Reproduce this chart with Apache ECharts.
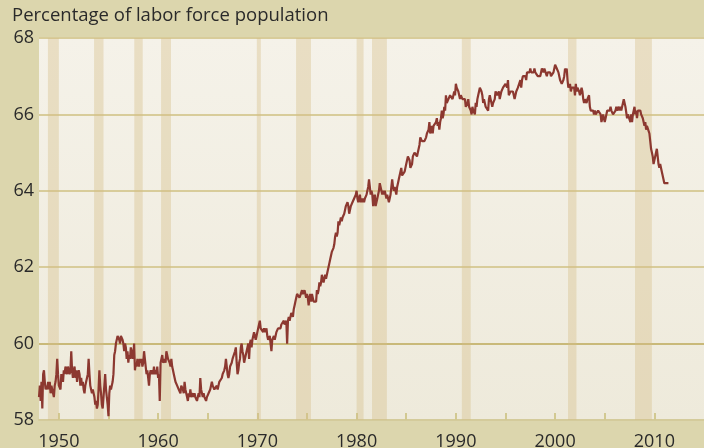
<!DOCTYPE html>
<html>
<head>
<meta charset="utf-8">
<script src="https://cdn.jsdelivr.net/npm/echarts@6/dist/echarts.min.js"></script>
<style>
html,body{margin:0;padding:0;background:#dcd6ad;}
#c{width:704px;height:448px;}
</style>
</head>
<body>
<div id="c"></div>
<script>
// Labor force participation rate, monthly, % of population
const startYear = 1948;
const vals1948 = [
58.6,58.9,58.5,59.0,58.3,59.2,59.3,59.0,58.8,58.9,58.8,59.0,
58.8,59.0,58.7,58.9,58.8,58.7,58.6,58.9,59.0,59.2,59.6,59.2,
58.9,58.9,58.8,59.2,59.1,59.0,59.3,59.2,59.4,59.3,59.2,59.4,
59.3,59.2,59.3,59.8,59.3,59.1,59.3,59.4,59.1,59.3,59.0,59.2,
59.3,59.2,58.9,59.1,58.9,59.0,58.8,58.7,58.9,59.0,59.1,59.2,
59.6,59.2,58.9,58.8,58.7,58.8,58.7,58.6,58.4,58.5,58.3,58.4,
58.8,59.3,58.9,58.7,58.4,58.3,58.6,58.9,59.2,58.8,58.6,58.4,
58.1,58.7,58.9,58.8,58.9,59.0,59.2,59.7,59.8,60.0,60.0,60.2,
60.2,60.1,60.0,60.2,60.2,60.1,60.0,59.8,60.0,59.9,59.6,59.8,
59.5,59.7,59.6,59.9,59.8,59.6,59.7,60.0,59.3,59.5,59.4,59.6,
59.5,59.4,59.6,59.5,59.6,59.4,59.5,59.8,59.6,59.4,59.2,59.3,
59.1,58.9,59.2,59.3,59.2,59.3,59.2,59.4,59.2,59.3,59.2,59.4
];
const vals1960 = [
59.1,59.2,58.5,59.5,59.6,59.7,59.5,59.5,59.6,59.5,59.8,59.7,
59.6,59.6,59.5,59.4,59.6,59.4,59.3,59.2,59.1,59.0,59.0,58.9,
58.9,58.8,58.8,58.7,58.9,58.9,58.8,58.7,59.0,58.8,58.7,58.6,
58.5,58.7,58.6,58.8,58.6,58.6,58.7,58.6,58.7,58.6,58.6,58.5,
58.6,58.7,58.6,59.1,58.8,58.7,58.6,58.7,58.6,58.6,58.5,58.6,
58.6,58.7,58.7,58.8,58.8,59.0,58.9,58.9,58.8,58.8,58.8,58.9,
58.8,58.9,59.0,59.0,59.0,59.1,59.2,59.2,59.3,59.4,59.6,59.4,
59.2,59.1,59.2,59.4,59.4,59.5,59.6,59.6,59.6,59.8,59.9,59.5,
59.2,59.3,59.5,59.6,59.9,60.0,59.8,59.7,59.5,59.6,59.7,59.8,
59.9,60.0,59.6,60.0,60.1,59.9,60.1,60.2,60.3,60.2,60.1,60.2
];
const vals1970 = [
60.3,60.4,60.5,60.6,60.4,60.4,60.4,60.3,60.4,60.3,60.3,60.4,
60.2,60.1,60.1,60.2,60.0,59.8,60.1,60.1,60.2,60.1,60.2,60.3,
60.3,60.4,60.4,60.4,60.4,60.5,60.5,60.5,60.6,60.5,60.5,60.6,
60.0,60.6,60.7,60.6,60.7,60.8,60.8,60.7,60.9,61.0,61.1,61.2,
61.3,61.3,61.3,61.2,61.2,61.2,61.4,61.3,61.3,61.4,61.3,61.2,
61.3,61.2,61.0,61.2,61.3,61.1,61.3,61.2,61.1,61.1,61.1,61.1,
61.4,61.3,61.4,61.6,61.5,61.6,61.8,61.7,61.6,61.7,61.8,61.7,
61.7,61.9,62.0,62.1,62.2,62.3,62.4,62.4,62.5,62.6,62.8,62.9,
62.8,62.9,63.2,63.1,63.2,63.3,63.2,63.3,63.3,63.4,63.5,63.6,
63.6,63.7,63.6,63.4,63.5,63.6,63.6,63.7,63.7,63.8,63.8,63.9
];
const vals1980 = [
64.0,63.8,63.7,63.8,63.9,63.7,63.8,63.7,63.8,63.7,63.8,63.8,
63.9,64.0,64.1,64.3,64.1,63.9,64.0,63.9,63.6,63.8,63.9,63.6,
63.6,63.8,63.9,64.0,64.2,64.1,64.0,63.9,64.0,63.9,64.0,63.9,
63.8,63.9,63.8,63.7,63.8,63.9,64.1,64.3,64.1,64.0,64.1,64.1,
63.9,64.1,64.2,64.3,64.4,64.5,64.6,64.4,64.4,64.4,64.5,64.6,
64.7,64.7,64.9,64.9,64.8,64.6,64.6,64.7,64.9,64.9,65.0,65.0,
65.0,64.9,65.0,65.1,65.2,65.4,65.4,65.3,65.3,65.3,65.3,65.3,
65.4,65.5,65.5,65.6,65.8,65.5,65.6,65.7,65.5,65.7,65.7,65.7,
65.8,65.9,65.7,65.8,65.6,65.8,65.9,66.1,65.9,66.0,66.2,66.1,
66.5,66.3,66.3,66.4,66.4,66.5,66.5,66.5,66.4,66.5,66.6,66.5
];
const vals1990 = [
66.8,66.7,66.7,66.6,66.6,66.4,66.5,66.5,66.4,66.4,66.4,66.4,
66.2,66.2,66.3,66.4,66.2,66.2,66.1,66.0,66.2,66.1,66.1,66.0,
66.3,66.2,66.4,66.5,66.6,66.7,66.7,66.6,66.5,66.3,66.4,66.4,
66.2,66.2,66.2,66.1,66.4,66.5,66.4,66.4,66.2,66.3,66.3,66.4,
66.6,66.6,66.5,66.5,66.6,66.4,66.4,66.6,66.6,66.7,66.7,66.7,
66.8,66.8,66.7,66.9,66.5,66.5,66.6,66.6,66.6,66.6,66.5,66.4,
66.4,66.6,66.6,66.7,66.7,66.7,66.9,66.7,66.9,67.0,67.0,67.0,
67.0,66.9,67.1,67.1,67.1,67.1,67.2,67.1,67.1,67.1,67.1,67.2,
67.1,67.1,67.1,67.0,67.0,67.0,67.0,67.0,67.2,67.2,67.1,67.2,
67.2,67.2,67.0,67.1,67.1,67.1,67.1,67.0,67.0,67.0,67.1,67.1
];
const vals2000 = [
67.3,67.3,67.2,67.2,67.1,67.1,66.9,66.9,66.8,66.8,66.9,67.0,
67.2,67.1,67.2,66.9,66.7,66.7,66.8,66.6,66.7,66.7,66.7,66.7,
66.5,66.8,66.6,66.7,66.7,66.6,66.5,66.6,66.7,66.6,66.4,66.3,
66.4,66.4,66.3,66.4,66.4,66.5,66.2,66.1,66.1,66.1,66.1,66.0,
66.1,66.0,66.0,66.0,66.1,66.1,66.1,66.0,65.8,65.9,66.0,65.9,
65.8,65.9,65.9,66.1,66.1,66.1,66.1,66.2,66.1,66.1,66.0,66.0,
66.0,66.1,66.2,66.1,66.1,66.2,66.1,66.2,66.1,66.2,66.3,66.4,
66.4,66.2,66.2,65.9,66.0,66.0,66.0,65.8,66.0,65.8,66.0,66.0,
66.2,66.0,66.1,65.9,66.1,66.1,66.1,66.1,66.0,66.0,65.9,65.8,
65.7,65.8,65.6,65.7,65.7,65.7,65.5,65.3,65.1,65.0,64.9,64.7,
64.8,64.9,65.0,65.1,64.9,64.7,64.6,64.7,64.7,64.5,64.5,64.3,
64.2,64.2,64.2,64.2,64.2,64.2
];
// Recession periods (start, end) in decimal years
const recessions = [
[1948.9,1950.0],[1953.55,1954.5],[1957.6,1958.45],[1960.3,1961.3],
[1969.95,1970.35],[1973.9,1975.4],[1980.0,1980.7],[1981.55,1983.05],
[1990.6,1991.5],[2001.3,2002.15],[2008.05,2009.75]
];
const yTicks = [58,60,62,64,66,68];
const xTicks = [1950,1955,1960,1965,1970,1975,1980,1985,1990,1995,2000,2005,2010];
const xLabels = [1950,1960,1970,1980,1990,2000,2010];
const titleText = 'Percentage of labor force population';

const allVals = [].concat(vals1948, vals1960, vals1970, vals1980, vals1990, vals2000);
const seriesData = allVals.map((v, i) => [startYear + i / 12, v]);

const chart = echarts.init(document.getElementById('c'));
const FONT = '"Open Sans", "DejaVu Sans", sans-serif';
chart.setOption({
  animation: false,
  backgroundColor: '#dcd6ad',
  graphic: [{
    type: 'text', left: 12, top: 6,
    style: { text: titleText, fill: '#2a2a2a', font: '18.5px ' + FONT }
  }],
  grid: {
    left: 39, right: 0, top: 38, bottom: 28,
    outerBoundsMode: 'none', containLabel: false,
    show: true, borderWidth: 0,
    backgroundColor: new echarts.graphic.LinearGradient(0, 0, 0, 1, [
      { offset: 0, color: '#f5f2e9' }, { offset: 1, color: '#eeeadb' }
    ])
  },
  xAxis: {
    type: 'value', min: 1948, max: 2015,
    axisLine: { show: true, lineStyle: { color: '#d4cb9b', width: 2 } },
    axisTick: { show: true, inside: true, length: 7, customValues: xTicks,
      lineStyle: { color: '#d2c991', width: 2 } },
    axisLabel: { customValues: xLabels, color: '#2a2a2a', fontSize: 18,
      fontFamily: FONT, margin: 13, formatter: v => String(Math.round(v)) },
    splitLine: { show: false }
  },
  yAxis: {
    type: 'value', min: 58, max: 68, interval: 2,
    axisLine: { show: false }, axisTick: { show: false },
    axisLabel: { color: '#2a2a2a', fontSize: 18, fontFamily: FONT, margin: 5 },
    splitLine: { show: true, lineStyle: { width: 2,
      color: ['#d4cb9b', '#c9b979', '#d8cc9a', '#d8cc9a', '#d8cc9a', '#d8cc9a'] } }
  },
  series: [{
    type: 'line', data: seriesData, showSymbol: false, symbol: 'none',
    lineStyle: { color: '#8c3830', width: 2.2 },
    z: 5,
    markArea: {
      silent: true,
      itemStyle: { color: 'rgba(212,190,135,0.38)' },
      data: recessions.map(r => [{ xAxis: r[0] }, { xAxis: r[1] }])
    }
  }]
});
</script>
</body>
</html>
